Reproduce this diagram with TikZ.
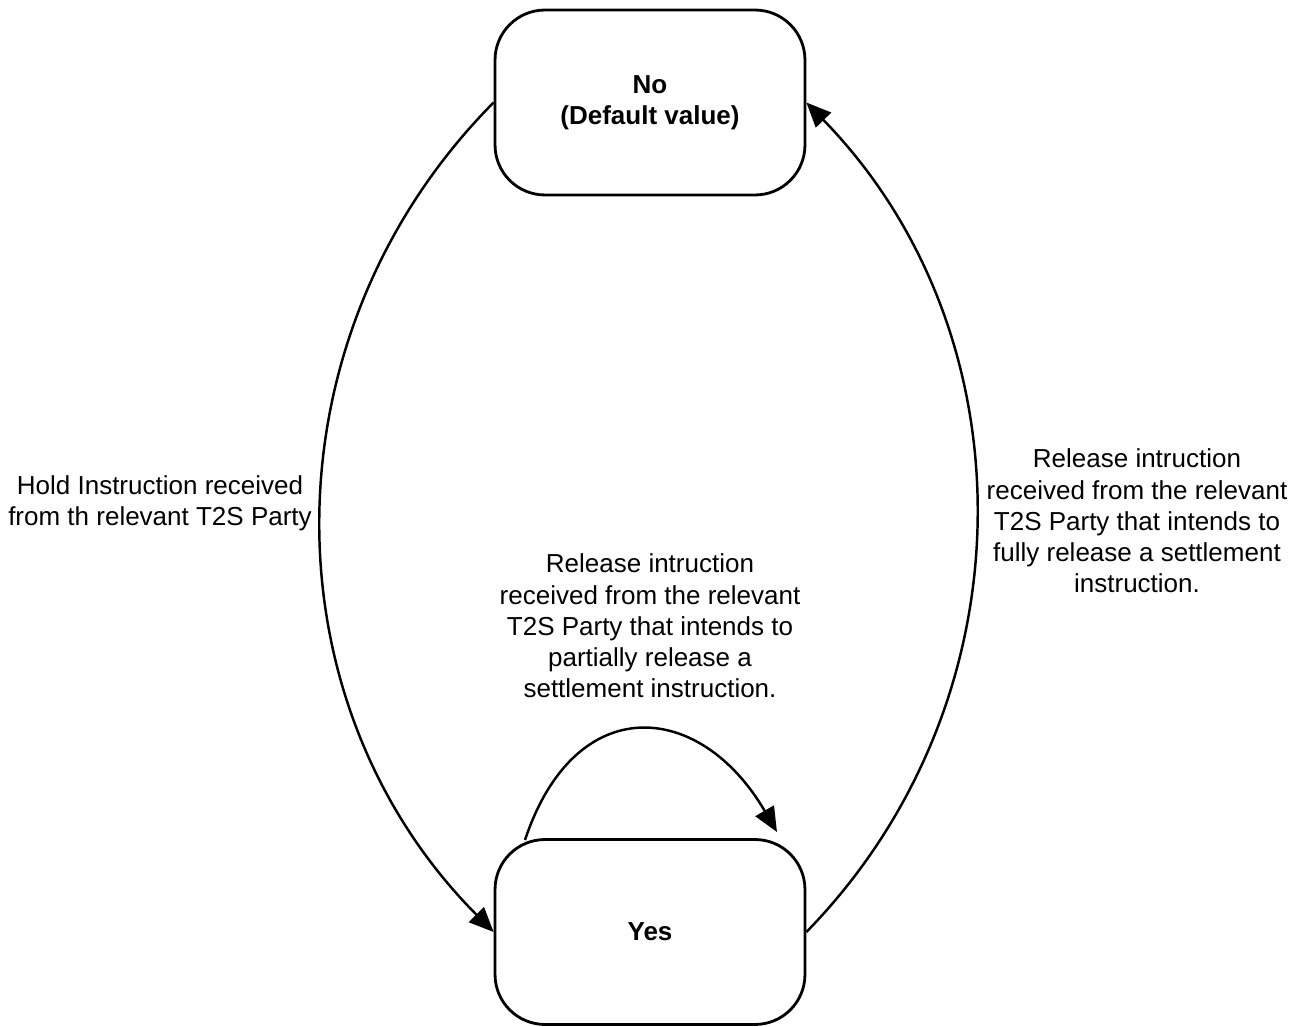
\documentclass[tikz,border=0pt]{standalone}
\usepackage{fontspec}
\setmainfont{Liberation Sans}
\usetikzlibrary{arrows.meta}
\begin{document}
\begin{tikzpicture}[x=0.02cm,y=-0.02cm,
  state/.style={draw,line width=1.6pt,rounded corners=1cm,minimum width=6.2cm,minimum height=3.7cm,align=center,inner sep=0pt,font=\fontsize{14.8}{17.8}\selectfont\bfseries},
  lbl/.style={align=center,inner sep=0pt,font=\fontsize{14.8}{17.8}\selectfont},
  conn/.style={line width=1.4pt,-{Triangle[length=14pt,width=12pt]}}]
\useasboundingbox (0,0) rectangle (1303,1027);
\node[state] (no) at (650,102.5) {No\\(Default value)};
\node[state] (yes) at (650,932) {Yes};
\draw[conn] (no.west) .. controls (264,334) and (264,701) .. (yes.west);
\draw[conn] (yes.east) .. controls (1032,701) and (1032,334) .. (no.east);
\coordinate (ls) at (525,840);
\coordinate (le) at (777,832);
\draw[conn] (ls) .. controls (575,690) and (700,700) .. (le);
\node[lbl] (hold) at (160,503) {Hold Instruction received\\from th relevant T2S Party};
\node[lbl] (full) at (1137,521) {Release intruction\\received from the relevant\\T2S Party that intends to\\fully release a settlement\\instruction.};
\node[lbl] (part) at (650,626) {Release intruction\\received from the relevant\\T2S Party that intends to\\partially release a\\settlement instruction.};
\end{tikzpicture}
\end{document}
